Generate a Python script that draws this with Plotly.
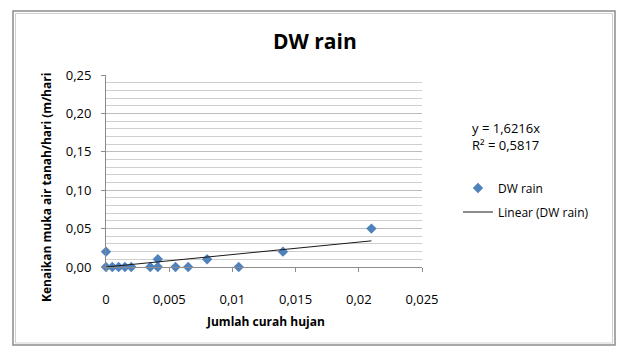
import plotly.graph_objects as go

x_vals = [0, 0, 0.0005, 0.001, 0.0015, 0.002, 0.0035, 0.0041, 0.0041, 0.0055, 0.0065, 0.008, 0.0105, 0.014, 0.021]
y_vals = [0.02, 0, 0, 0, 0, 0, 0, 0.01, 0, 0, 0, 0.01, 0, 0.02, 0.05]
slope = 1.6216
r2 = 0.5817
trend_x = [0, 0.021]
trend_y = [slope * v for v in trend_x]
x_ticks = [0, 0.005, 0.01, 0.015, 0.02, 0.025]
x_tick_labels = ["0", "0,005", "0,01", "0,015", "0,02", "0,025"]
y_ticks = [0, 0.05, 0.10, 0.15, 0.20, 0.25]
y_tick_labels = ["0,00", "0,05", "0,10", "0,15", "0,20", "0,25"]

W, H = 620, 347
L, R, T, B = 106, 198, 75, 80
pw, ph = W - L - R, H - T - B

def px(x):
    return (x - L) / pw

def py(y):
    return (H - B - y) / ph

FONT = "Open Sans"

fig = go.Figure()
fig.add_trace(go.Scatter(
    x=x_vals, y=y_vals, mode="markers", name="DW rain", cliponaxis=False,
    legendgroup="a",
    marker=dict(symbol="diamond", size=8, color="#4F81BD"),
))
fig.add_trace(go.Scatter(
    x=trend_x, y=trend_y, mode="lines", name="Linear (DW rain)",
    legendgroup="b",
    line=dict(color="#1a1a1a", width=1),
))

fig.update_layout(
    width=W, height=H,
    margin=dict(l=L, r=R, t=T, b=B),
    paper_bgcolor="white", plot_bgcolor="white",
    separators=",.",
    font=dict(family=FONT, size=12, color="#000"),
    showlegend=True,
    legend=dict(x=px(458), y=py(200), xanchor="left", yanchor="middle",
                font=dict(family=FONT, size=12, color="#000"),
                bgcolor="rgba(0,0,0,0)", itemwidth=30, tracegroupgap=5),
    xaxis=dict(range=[0, 0.025], tickvals=x_ticks, ticktext=x_tick_labels,
               showgrid=False, zeroline=False, showline=True, linecolor="#8c8c8c",
               linewidth=1, ticks="outside", ticklen=4, tickcolor="#8c8c8c",
               ticklabelstandoff=16,
               tickfont=dict(family=FONT, size=13), fixedrange=True),
    yaxis=dict(range=[0, 0.25], tickvals=y_ticks, ticktext=y_tick_labels,
               showgrid=True, gridcolor="#bdbdbd", gridwidth=1,
               minor=dict(dtick=0.01, showgrid=True, gridcolor="#cfcfcf", gridwidth=1),
               zeroline=False, showline=True, linecolor="#8c8c8c", linewidth=1,
               ticks="outside", ticklen=4, tickcolor="#8c8c8c",
               ticklabelstandoff=7,
               tickfont=dict(family=FONT, size=13), fixedrange=True),
    annotations=[
        dict(text="<b>DW rain</b>", x=px(315), y=py(41), xref="paper", yref="paper",
             showarrow=False, font=dict(family=FONT, size=21, color="#000"),
             xanchor="center", yanchor="middle"),
        dict(text="<b>Kenaikan muka air tanah/hari (m/hari</b>", x=px(46), y=py(188),
             xref="paper", yref="paper", showarrow=False, textangle=-90,
             font=dict(family=FONT, size=12, color="#000"),
             xanchor="center", yanchor="middle"),
        dict(text="<b>Jumlah curah hujan</b>", x=px(265), y=py(321),
             xref="paper", yref="paper", showarrow=False,
             font=dict(family=FONT, size=12, color="#000"),
             xanchor="center", yanchor="middle"),
        dict(text="y = 1,6216x", x=px(470), y=py(128),
             xref="paper", yref="paper", showarrow=False,
             font=dict(family=FONT, size=13, color="#000"),
             xanchor="left", yanchor="middle"),
        dict(text="R² = 0,5817", x=px(470), y=py(145),
             xref="paper", yref="paper", showarrow=False,
             font=dict(family=FONT, size=13, color="#000"),
             xanchor="left", yanchor="middle"),
    ],
    shapes=[
        dict(type="rect", xref="paper", yref="paper",
             x0=px(13), x1=px(615), y0=py(345), y1=py(11),
             line=dict(color="#8c8c8c", width=1.5)),
        dict(type="rect", xref="paper", yref="paper",
             x0=px(15.5), x1=px(612.5), y0=py(343), y1=py(13.5),
             line=dict(color="#d0d0d0", width=1)),
    ],
)

fig.write_html("out.html")
